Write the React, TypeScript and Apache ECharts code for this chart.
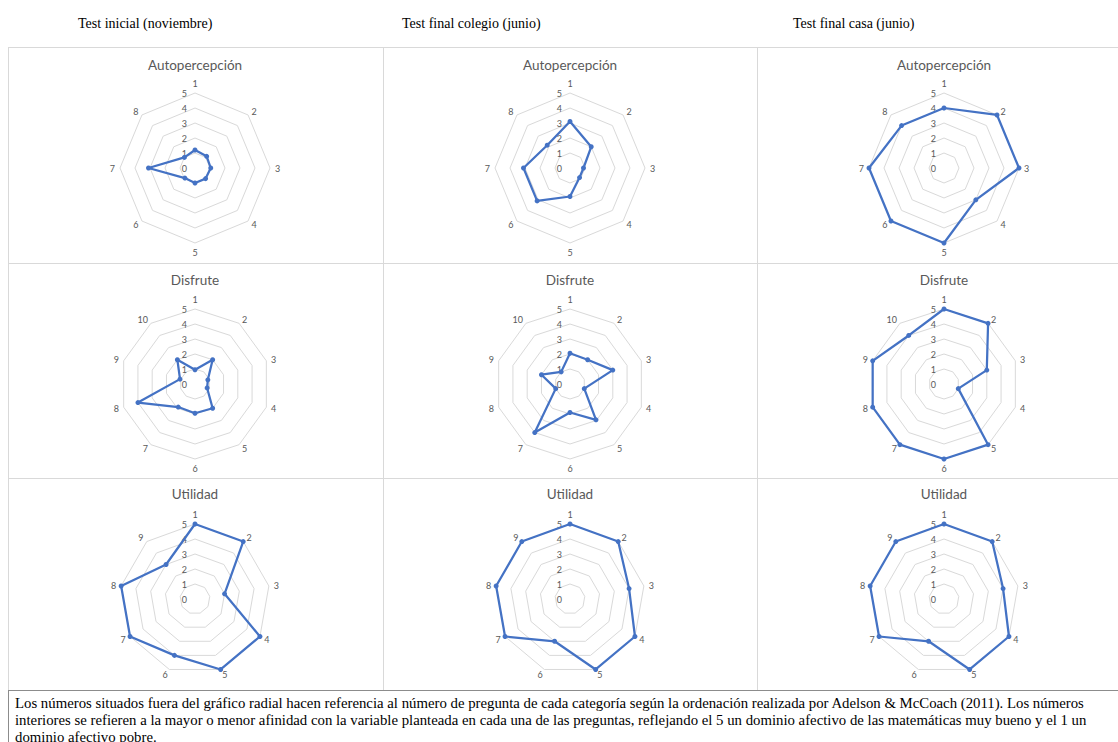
import React, { useEffect, useRef } from 'react';
import * as echarts from 'echarts';

const columnTitles = ['Test inicial (noviembre)', 'Test final colegio (junio)', 'Test final casa (junio)'];
const rowTitles = ['Autopercepción', 'Disfrute', 'Utilidad'];

const autoAxes = ['1', '2', '3', '4', '5', '6', '7', '8'];
const disfruteAxes = ['1', '2', '3', '4', '5', '6', '7', '8', '9', '10'];
const utilidadAxes = ['1', '2', '3', '4', '5', '6', '7', '8', '9'];

const autoInicial = [1.2, 1.1, 1.05, 1.0, 1.0, 0.95, 3.1, 1.0];
const autoColegio = [3.1, 2.0, 0.9, 0.9, 1.9, 3.1, 3.1, 2.15];
const autoCasa = [4, 5, 5, 3, 5, 5, 5, 4];

const disfruteInicial = [0.95, 2.0, 0.9, 0.85, 2.0, 1.95, 1.9, 4.0, 1.05, 2.0];
const disfruteColegio = [2.05, 2.0, 3.0, 1.0, 2.95, 1.9, 4.0, 1.0, 2.0, 1.0];
const disfruteCasa = [5, 5, 3, 1, 5, 5, 5, 5, 5, 4];

const utilidadInicial = [5, 5, 2, 5, 5, 4, 5, 5, 3];
const utilidadColegio = [5, 5, 4, 5, 5, 3, 5, 5, 5];
const utilidadCasa = [5, 5, 4, 5, 5, 3, 5, 5, 5];

const footerLines = [
  'Los números situados fuera del gráfico radial hacen referencia al número de pregunta de cada categoría según la ordenación realizada por Adelson & McCoach (2011). Los números',
  'interiores se refieren a la mayor o menor afinidad con la variable planteada en cada una de las preguntas, reflejando el 5 un dominio afectivo de las matemáticas muy bueno y el 1 un',
  'dominio afectivo pobre.',
];

const rowAxes = [autoAxes, disfruteAxes, utilidadAxes];
const rowData = [
  [autoInicial, autoColegio, autoCasa],
  [disfruteInicial, disfruteColegio, disfruteCasa],
  [utilidadInicial, utilidadColegio, utilidadCasa],
];

const colCenters = [195, 570, 944];
const rowCenters = [168, 384, 599];
const rowTitleY = [65, 280, 494];
const headerX = [78, 402, 793];
const vLines = [8, 383, 757];
const hLines = [47, 263, 478, 690];

const SANS = 'Lato, "Noto Sans", sans-serif';
const SERIF = '"Times New Roman", "Liberation Serif", serif';
const BLUE = '#4472C4';

// ECharts lays radar indicators counter-clockwise; reorder so they run clockwise
const clockwise = <T,>(arr: T[]): T[] => [arr[0], ...arr.slice(1).reverse()];

export default function App() {
  const ref = useRef<HTMLDivElement>(null);
  useEffect(() => {
    if (!ref.current) return;
    const chart = echarts.init(ref.current, null, { renderer: 'svg' });
    const radars: any[] = [];
    const series: any[] = [];
    const graphics: any[] = [];

    columnTitles.forEach((t, i) => {
      graphics.push({
        type: 'text', x: headerX[i], y: 23,
        style: { text: t, fontFamily: SERIF, fontSize: 14, fill: '#000', textVerticalAlign: 'middle' },
      });
    });

    // table lines
    const gridColor = '#d9d9d9';
    hLines.slice(0, 3).forEach((y) => {
      graphics.push({ type: 'line', shape: { x1: vLines[0], y1: y + 0.5, x2: 1118, y2: y + 0.5 }, style: { stroke: gridColor, lineWidth: 1 } });
    });
    vLines.forEach((x) => {
      graphics.push({ type: 'line', shape: { x1: x + 0.5, y1: hLines[0], x2: x + 0.5, y2: hLines[3] }, style: { stroke: gridColor, lineWidth: 1 } });
    });
    graphics.push({ type: 'line', shape: { x1: vLines[0], y1: hLines[3] + 0.5, x2: 1118, y2: hLines[3] + 0.5 }, style: { stroke: '#8c8c8c', lineWidth: 1 } });
    graphics.push({ type: 'line', shape: { x1: vLines[0] + 0.5, y1: hLines[3], x2: vLines[0] + 0.5, y2: 742 }, style: { stroke: '#8c8c8c', lineWidth: 1 } });

    footerLines.forEach((t, i) => {
      graphics.push({
        type: 'text', x: 15, y: 703 + i * 17, scaleX: 1.057,
        style: { text: t, fontFamily: SERIF, fontSize: 14, fill: '#000', textVerticalAlign: 'middle' },
      });
    });

    rowTitles.forEach((title, r) => {
      colCenters.forEach((cx, c) => {
        graphics.push({
          type: 'text', x: cx, y: rowTitleY[r],
          style: { text: title, fontFamily: SANS, fontSize: 13.5, fill: '#595959', textAlign: 'center', textVerticalAlign: 'middle' },
        });
        const idx = radars.length;
        radars.push({
          center: [cx, rowCenters[r]],
          radius: 75,
          startAngle: 90,
          shape: 'polygon',
          splitNumber: 5,
          indicator: clockwise(rowAxes[r]).map((n, i) => ({
            name: n, min: 0, max: 5,
            ...(i === 0 ? { axisLabel: { show: true } } : {}),
          })),
          axisName: { color: '#595959', fontSize: 9, fontFamily: SANS },
          nameGap: 5,
          axisLine: { show: false },
          axisTick: { show: false },
          splitLine: { lineStyle: { color: '#d9d9d9', width: 1 } },
          splitArea: { show: false },
          axisLabel: { show: false, color: '#595959', fontSize: 9, fontFamily: SANS, margin: 8 },
        });
        series.push({
          type: 'radar',
          radarIndex: idx,
          symbol: 'circle',
          symbolSize: 5,
          lineStyle: { color: BLUE, width: 2.25 },
          itemStyle: { color: BLUE },
          data: [{ value: clockwise(rowData[r][c]), name: `${rowTitles[r]} ${columnTitles[c]}` }],
        });
      });
    });

    chart.setOption({
      animation: false,
      radar: radars,
      series,
      graphic: graphics,
    });
    return () => chart.dispose();
  }, []);
  return <div ref={ref} style={{ position: 'absolute', left: 0, top: 0, width: 1118, height: 742, background: '#fff' }} />;
}
